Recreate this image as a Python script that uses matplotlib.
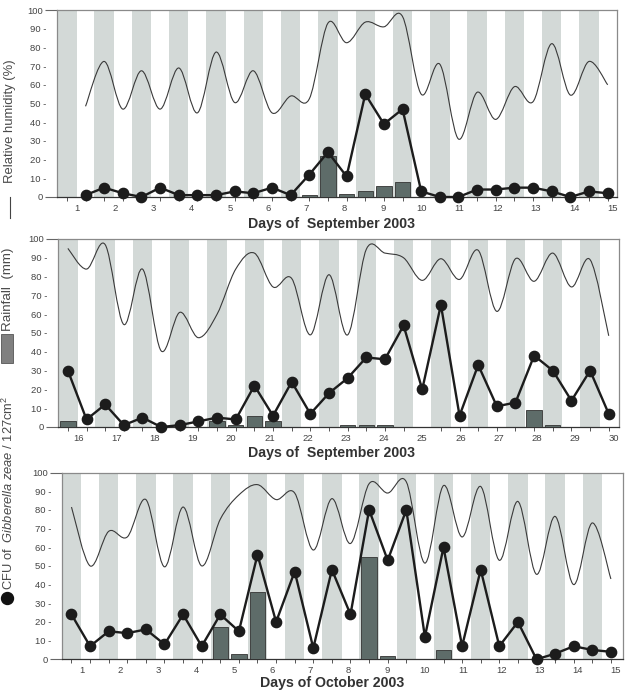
import numpy as np
import matplotlib
matplotlib.use("Agg")
import matplotlib.pyplot as plt
from matplotlib.path import Path
from matplotlib.patches import PathPatch, Rectangle
from matplotlib.lines import Line2D

plt.rcParams['font.family'] = ['Liberation Sans', 'DejaVu Sans']
plt.rcParams['mathtext.fontset'] = 'custom'
plt.rcParams['mathtext.rm'] = 'Liberation Sans'
plt.rcParams['mathtext.it'] = 'Liberation Sans:italic'

# ---------------- data (half-day readings) ----------------
# Panel 1: 1-15 September 2003, readings start at half-day index 1
sep1_days = list(range(1, 16))
sep1_start = 1
sep1_cfu = [1, 5, 2, 0, 5, 1, 1, 1, 3, 2, 5, 1, 12, 24, 11,
            55, 39, 47, 3, 0, 0, 4, 4, 5, 5, 3, 0, 3, 2]
sep1_rain = [0, 0, 0, 0, 0, 0, 0, 0, 0, 0, 0, 0, 1, 22, 1.5,
             3, 6, 8, 0, 0, 0, 0, 0, 0, 0, 0, 0, 0, 0]
sep1_rh = [48.5, 72.5, 47, 67.5, 47, 69, 45, 77.5, 50.5, 67.5, 45, 54, 52.5, 93, 82.5,
           93.5, 91, 96.5, 55, 71, 31, 56, 41.5, 59, 51, 82, 54.5, 72.5, 60]

# Panel 2: 16-30 September 2003, readings start at half-day index 0
sep2_days = list(range(16, 31))
sep2_start = 0
sep2_cfu = [30, 4, 12, 1, 5, 0, 1, 3, 5, 4, 22, 6, 24, 7, 18,
            26, 37, 36, 54, 20, 65, 6, 33, 11, 13, 38, 30, 14, 30, 7]
sep2_rain = [3, 0, 0, 0, 0, 0, 0, 0, 3, 1, 6, 3, 0, 0, 0,
             1, 1, 1, 0, 0, 0, 0, 0, 0, 0, 9, 1, 0, 0, 0]
sep2_rh = [95, 84, 97, 54.5, 84, 40.5, 61, 47.5, 60, 84, 92.5, 74.5, 79, 49, 81,
           49, 94.5, 92.5, 90, 78, 89.5, 78.5, 94, 61.5, 89.5, 77.5, 92.5, 74.5, 89, 48.5]

# Panel 3: 1-15 October 2003
oct_days = list(range(1, 16))
oct_start = 0
oct_cfu = [24, 7, 15, 14, 16, 8, 24, 7, 24, 15, 56, 20, 47, 6, 48,
           24, 80, 53, 80, 12, 60, 7, 48, 7, 20, 0, 3, 7, 5, 4]
oct_rain = [0, 0, 0, 0, 0, 0, 0, 0, 17.5, 3, 36, 0, 0, 0, 0,
            0, 55, 1.5, 0, 0, 5, 0, 0, 0, 0, 0, 0, 0, 0, 0]
oct_rh = [81.5, 50, 68.5, 65.5, 85.5, 49.5, 81.5, 50, 75, 88, 93.5, 85.5, 89, 58.5, 86,
          62, 94, 89, 95, 51.5, 93, 65.5, 92.5, 53, 84.5, 45.5, 76.5, 40, 73, 43]

y_ticks = list(range(0, 101, 10))
titles = ['Days of  September 2003', 'Days of  September 2003', 'Days of October 2003']

# ---------------- style ----------------
W, H = 632, 693
BAND = '#d3d9d7'
BAR = '#5e6c69'
DARK = '#1c1c1c'
TXT = '#444444'


def smooth_path(x, y):
    pts = np.column_stack([x, y]).astype(float)
    n = len(pts)
    verts = [pts[0]]
    codes = [Path.MOVETO]
    for i in range(n - 1):
        p0 = pts[i - 1] if i > 0 else pts[i]
        p1 = pts[i]
        p2 = pts[i + 1]
        p3 = pts[i + 2] if i + 2 < n else pts[i + 1]
        c1 = p1 + (p2 - p0) / 6.0
        c2 = p2 - (p3 - p1) / 6.0
        verts += [c1, c2, p2]
        codes += [Path.CURVE4] * 3
    return Path(verts, codes)


fig = plt.figure(figsize=(W / 100, H / 100), dpi=100)

panels = [
    # (left, top, right, bottom) in px, xlim, data
    ((57, 10, 617, 197), (-0.53, 29.5), sep1_days, sep1_start, sep1_cfu, sep1_rain, sep1_rh, 224),
    ((58, 239, 619, 427), (-0.53, 29.55), sep2_days, sep2_start, sep2_cfu, sep2_rain, sep2_rh, 453),
    ((62, 472.5, 623, 659.3), (-0.51, 29.65), oct_days, oct_start, oct_cfu, oct_rain, oct_rh, 683),
]

for idx, (box, xlim, days, start, cfu, rain, rh, title_y) in enumerate(panels):
    l, t, r, b = box
    ax = fig.add_axes([l / W, 1 - b / H, (r - l) / W, (b - t) / H])
    ax.set_xlim(*xlim)
    ax.set_ylim(0, 100)

    # night bands
    for k in range(15):
        ax.axvspan(2 * k - 0.52, 2 * k + 0.52, color=BAND, lw=0, zorder=0)

    x = np.arange(start, start + len(cfu))

    # relative humidity (smoothed line)
    xr = np.arange(start, start + len(rh))
    ax.add_patch(PathPatch(smooth_path(xr, rh), fill=False, ec='#3a3a3a', lw=0.8, zorder=2))

    # rainfall bars
    rain_arr = np.array(rain, dtype=float)
    mask = rain_arr > 0
    ax.bar(x[mask], rain_arr[mask], width=0.82, color=BAR, edgecolor='#333333',
           linewidth=0.6, zorder=3)

    # CFU
    ax.plot(x, cfu, color=DARK, lw=1.7, marker='o', markersize=7.4,
            markerfacecolor=DARK, markeredgecolor=DARK, zorder=4, clip_on=False)

    # x ticks
    label_pos = 0.55 + 2.05 * np.arange(len(days))
    ax.set_xticks(label_pos)
    ax.set_xticklabels([str(d) for d in days])
    ax.set_xticks(np.arange(0, 30), minor=True)
    ax.tick_params(axis='x', which='major', length=0, pad=5, labelsize=6.8, labelcolor=TXT)
    ax.tick_params(axis='x', which='minor', length=3.2, width=0.7, color='#555555', direction='out')

    # y ticks
    ax.set_yticks([0, 100])
    ax.set_yticklabels(['0', '100'])
    mids = [v for v in y_ticks if v not in (0, 100)]
    ax.set_yticks(mids, minor=True)
    ax.set_yticklabels([f'{v} -' for v in mids], minor=True)
    ax.tick_params(axis='y', which='major', length=9, width=0.8, color='#666666', pad=1,
                   labelsize=6.8, labelcolor=TXT)
    ax.tick_params(axis='y', which='minor', length=0, pad=7.8, labelsize=6.8, labelcolor=TXT)

    for side in ['top', 'right', 'left']:
        ax.spines[side].set_color('#8a8a8a')
        ax.spines[side].set_linewidth(0.9)
    ax.spines['bottom'].set_color('#333333')
    ax.spines['bottom'].set_linewidth(0.9)

    fig.text(332 / W, 1 - title_y / H, titles[idx], ha='center', va='center',
             fontsize=10.2, fontweight='bold', color='#333333')

# ---------------- composite left label ----------------
fig.add_artist(Line2D([7 / W], [1 - 598 / H], marker='o', markersize=8.6,
                      color='#111111', transform=fig.transFigure))
fig.text(8 / W, 1 - 590 / H, r'CFU of  $\it{Gibberella\ zeae}$ / 127cm$^2$',
         rotation=90, ha='center', va='bottom', fontsize=9.3, color='#4a4a4a')
fig.add_artist(Rectangle((0.5 / W, 1 - 363 / H), 12 / W, 29 / H, transform=fig.transFigure,
                         facecolor='#808080', edgecolor='#555555', lw=0.6))
fig.text(8 / W, 1 - 331 / H, 'Rainfall  (mm)', rotation=90, ha='center', va='bottom',
         fontsize=9.6, color='#4a4a4a')
fig.add_artist(Line2D([10 / W, 10 / W], [1 - 218 / H, 1 - 197 / H], color='#444444', lw=0.8,
                      transform=fig.transFigure))
fig.text(10 / W, 1 - 183 / H, 'Relative humidity (%)', rotation=90, ha='center', va='bottom',
         fontsize=9.4, color='#4a4a4a')

fig.savefig('out.png', dpi=100)
